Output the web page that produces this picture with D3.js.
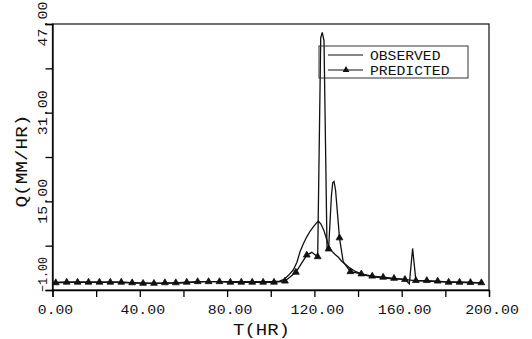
<!DOCTYPE html>
<html>
<head>
<meta charset="utf-8">
<script src="https://cdn.jsdelivr.net/npm/d3@7"></script>
<style>
  html, body { margin: 0; padding: 0; background: #fff; }
  svg { display: block; }
  text { font-family: "Liberation Mono", "DejaVu Sans Mono", monospace; fill: #111; }
</style>
</head>
<body>
<script>
// observed hydrograph (T hours, Q mm/hr)
const obsT = [0.5, 3, 10, 20, 30, 40, 50, 60, 70, 80, 90, 100, 104, 106, 108, 110.3, 112, 113.4, 115, 116.5,
  118, 119.5, 121, 121.8, 123, 124.3, 125.5, 126.5, 128, 129.5, 131, 132.5, 134, 136.5, 139, 141, 144, 146.5,
  151, 156, 161, 166, 171, 176, 181, 186, 191, 196.5];
const obsQ = [0.1, 0.4, 0.4, 0.4, 0.4, 0.3, 0.2, 0.3, 0.5, 0.5, 0.5, 0.5, 0.6, 0.9, 1.6, 2.6, 4.0, 5.9, 7.4, 8.6,
  9.6, 10.4, 11.1, 11.45, 10.9, 9.8, 8.3, 7.0, 6.0, 5.4, 4.9, 4.2, 3.7, 2.9, 2.3, 2.0, 1.6, 1.4,
  1.2, 1.0, 0.9, 0.7, 0.6, 0.5, 0.45, 0.4, 0.35, 0.3];

// predicted hydrograph
const predT = [1.5, 6.5, 11.5, 16.5, 21.5, 26.5, 31.5, 36.5, 41.5, 46.5, 51.5, 56.5, 61.5, 66.5, 71.5, 76.5,
  81.5, 86.5, 91.5, 96.5, 101.5, 106.5, 111.5, 116.5, 118.8, 121.5, 122.9, 123.6, 124.4, 125.8, 126.5,
  127.8, 128.4, 129.0, 129.7, 131.5, 133.2, 136.5, 141.5, 146.5, 151.5, 156.5, 161.5, 163.5, 165, 166.5,
  171.5, 176.5, 181.5, 186.5, 191.5, 196.5];
const predQ = [0.3, 0.4, 0.4, 0.4, 0.4, 0.4, 0.4, 0.3, 0.2, 0.2, 0.3, 0.3, 0.4, 0.5, 0.5, 0.5,
  0.4, 0.4, 0.4, 0.4, 0.4, 0.6, 2.2, 5.3, 5.8, 5.0, 44.5, 45.5, 44, 6.2, 6.4,
  16, 18.4, 18.6, 17, 8.4, 4.1, 2.3, 1.9, 1.5, 1.3, 1.1, 0.9, 0.1, 6.5, 0.7,
  0.7, 0.6, 0.4, 0.4, 0.35, 0.3];
// triangles every 5 hours
const markerStart = 1.5;
const markerStep = 5;

// axes
const xTicks = [0, 20, 40, 60, 80, 100, 120, 140, 160, 180, 200];
const xLabels = [0, 40, 80, 120, 160, 200];
const yTicks = [-1, 7, 15, 23, 31, 39, 47];
const yLabels = [-1, 15, 31, 47];
const seriesNames = ["OBSERVED", "PREDICTED"];

const width = 532;
const height = 339;
const marginLeft = 52.5;
const marginRight = 43;
const marginTop = 24;
const marginBottom = 49;

const svg = d3.select("body")
  .append("svg")
  .attr("width", width)
  .attr("height", height);

const xScale = d3.scaleLinear()
  .domain([0, 200])
  .range([marginLeft, width - marginRight]);
const yScale = d3.scaleLinear()
  .domain([-1, 47])
  .range([height - marginBottom, marginTop]);

// frame
svg.append("rect")
  .attr("x", xScale(0)).attr("y", yScale(47))
  .attr("width", xScale(200) - xScale(0))
  .attr("height", yScale(-1) - yScale(47))
  .attr("fill", "none")
  .attr("stroke", "#222")
  .attr("stroke-width", 1.3);

// x axis
const xAxis = svg.append("g")
  .attr("transform", "translate(0," + yScale(-1) + ")")
  .call(d3.axisBottom(xScale).tickValues(xTicks).tickSize(7).tickFormat(""));
xAxis.select(".domain").attr("stroke-width", 1.3);
xAxis.selectAll(".tick line").attr("stroke-width", 1.3);

svg.selectAll(".xlab")
  .data(xLabels)
  .join("text")
  .attr("class", "xlab")
  .attr("x", d => xScale(d) + 3)
  .attr("y", 314)
  .attr("text-anchor", "middle")
  .style("font-size", "13px")
  .attr("textLength", d => d3.format(".2f")(d).length * 9.2 - 1.5)
  .attr("lengthAdjust", "spacingAndGlyphs")
  .text(d => d3.format(".2f")(d));

// y axis
const yAxis = svg.append("g")
  .attr("transform", "translate(" + xScale(0) + ",0)")
  .call(d3.axisLeft(yScale).tickValues(yTicks).tickSize(7).tickFormat(""));
yAxis.select(".domain").attr("stroke-width", 1.3);
yAxis.selectAll(".tick line").attr("stroke-width", 1.3);

svg.selectAll(".ylab")
  .data(yLabels)
  .join("text")
  .attr("class", "ylab")
  .attr("transform", d => "translate(47," + (d === -1 ? yScale(d) + 2 : yScale(d)) + ") rotate(-90)")
  .attr("text-anchor", d => d === -1 ? "start" : "middle")
  .style("font-size", "13px")
  .attr("textLength", d => d === -1 ? 35 : 45)
  .attr("lengthAdjust", "spacingAndGlyphs")
  .text(d => d3.format(".2f")(d));

// axis titles
svg.append("text")
  .attr("x", 261.5)
  .attr("y", 335)
  .attr("text-anchor", "middle")
  .style("font-size", "16px")
  .attr("textLength", 57)
  .attr("lengthAdjust", "spacingAndGlyphs")
  .text("T(HR)");

svg.append("text")
  .attr("transform", "translate(27,161) rotate(-90)")
  .attr("text-anchor", "middle")
  .style("font-size", "16px")
  .attr("textLength", 93)
  .attr("lengthAdjust", "spacingAndGlyphs")
  .text("Q(MM/HR)");

// lines
const line = d3.line()
  .x(d => xScale(d[0]))
  .y(d => yScale(d[1]));

const obsData = obsT.map((t, i) => [t, obsQ[i]]);
const predData = predT.map((t, i) => [t, predQ[i]]);

svg.append("path")
  .datum(obsData)
  .attr("fill", "none")
  .attr("stroke", "#111")
  .attr("stroke-width", 1.3)
  .attr("d", line);

svg.append("path")
  .datum(predData)
  .attr("fill", "none")
  .attr("stroke", "#111")
  .attr("stroke-width", 1.3)
  .attr("d", line);

const tri = d3.symbol().type(d3.symbolTriangle).size(20);

svg.selectAll(".mark")
  .data(predData.filter(d => Math.abs(((d[0] - markerStart) % markerStep)) < 1e-6))
  .join("path")
  .attr("class", "mark")
  .attr("transform", d => "translate(" + xScale(d[0]) + "," + yScale(d[1]) + ")")
  .attr("d", tri)
  .attr("fill", "#111")
  .attr("stroke", "#111")
  .attr("stroke-width", 0.8);

// legend
const legend = svg.append("g");
legend.append("rect")
  .attr("x", 319).attr("y", 46)
  .attr("width", 149).attr("height", 32)
  .attr("fill", "none")
  .attr("stroke", "#333")
  .attr("stroke-width", 1);

seriesNames.forEach((name, i) => {
  const ly = 55 + i * 15;
  legend.append("line")
    .attr("x1", 328).attr("x2", 363)
    .attr("y1", ly).attr("y2", ly)
    .attr("stroke", "#111")
    .attr("stroke-width", 1.2);
  if (i === 1) {
    legend.append("path")
      .attr("transform", "translate(346," + ly + ")")
      .attr("d", tri)
      .attr("fill", "#111");
  }
  legend.append("text")
    .attr("x", 370)
    .attr("y", ly + 4.5)
    .style("font-size", "13px")
    .attr("textLength", name.length * 9 - 1.5)
    .attr("lengthAdjust", "spacingAndGlyphs")
    .text(name);
});
</script>
</body>
</html>
